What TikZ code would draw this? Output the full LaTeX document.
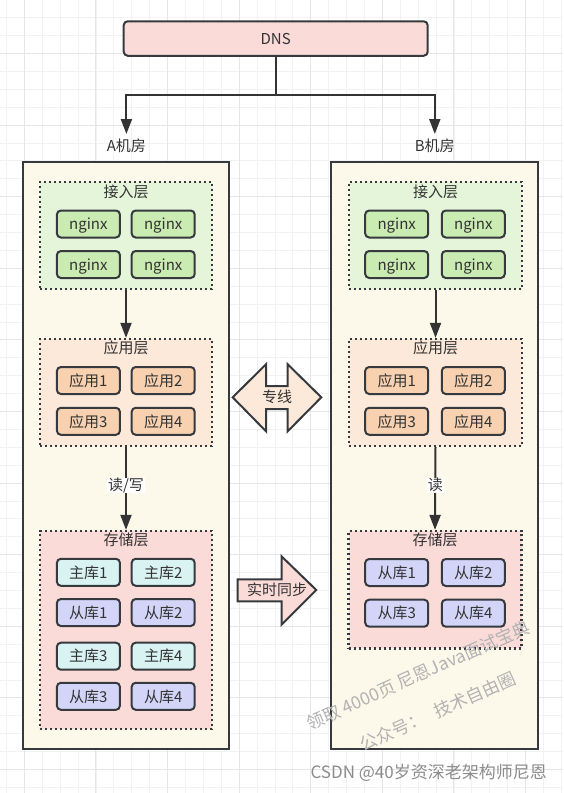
\documentclass[tikz,border=0pt]{standalone}
\usepackage{fontspec}
\setmainfont{Noto Sans CJK SC}
\usetikzlibrary{arrows.meta}
\definecolor{bd}{HTML}{36393D}
\definecolor{ac}{HTML}{333333}
\definecolor{tc}{HTML}{333333}
\definecolor{roomc}{HTML}{FCF8EA}
\definecolor{pinkc}{HTML}{FADBD8}
\definecolor{greeng}{HTML}{E4F5DA}
\definecolor{greenc}{HTML}{CAEBB1}
\definecolor{appg}{HTML}{FCE9DA}
\definecolor{appc}{HTML}{F8D2B0}
\definecolor{mainc}{HTML}{D8F3F1}
\definecolor{slavec}{HTML}{D2D5F7}
\definecolor{gminor}{HTML}{F2F2F2}
\definecolor{gmajor}{HTML}{E6E6E6}
\begin{document}
\begin{tikzpicture}[x=1pt,y=-1pt,
  txt/.style={font=\fontsize{15}{18}\selectfont, text=tc, text height=13.2pt, text depth=1.8pt, inner sep=0pt},
  bdr/.style={draw=bd, line width=2pt},
  room/.style={bdr, fill=roomc, minimum width=206pt, minimum height=587pt, inner sep=0pt},
  grp/.style={draw=bd, line width=2.3pt, dash pattern=on 2.2pt off 2.8pt, inner sep=0pt, minimum width=172pt},
  cell/.style={bdr, txt, rounded corners=4pt, minimum width=63pt, minimum height=27pt},
  arr/.style={draw=ac, line width=2pt, -{Triangle[length=15pt,width=11pt]}},
  wm/.style={font=\fontsize{17.5}{20}\selectfont, text=black!30, inner sep=0pt},
]
\useasboundingbox (0,0) rectangle (563,793);
\fill[white] (0,0) rectangle (563,793);
% grid
\foreach \k in {-1,...,30}{\pgfmathsetmacro\gx{24.3+17.9*\k}\draw[gminor, line width=0.8pt] (\gx,0) -- (\gx,793);}
\foreach \k in {-6,...,37}{\pgfmathsetmacro\gy{125+17.9*\k}\draw[gminor, line width=0.8pt] (0,\gy) -- (563,\gy);}
\foreach \k in {0,4,...,28}{\pgfmathsetmacro\gx{24.3+17.9*\k}\draw[gmajor, line width=0.9pt] (\gx,0) -- (\gx,793);}
\foreach \k in {-4,0,...,36}{\pgfmathsetmacro\gy{125+17.9*\k}\draw[gmajor, line width=0.9pt] (0,\gy) -- (563,\gy);}

% DNS
\node[bdr, txt, fill=pinkc, rounded corners=4pt, minimum width=304pt, minimum height=34.5pt] (dns) at (275.7,38.5) {DNS};
\coordinate (j) at (275.7,95);
\coordinate (tA) at (126.4,134);
\coordinate (tB) at (434.8,134);
\draw[arr] (dns.south) -- (j) -| (tA);
\draw[arr] (j) -| (tB);
\node[txt] (labA) at (126.4,146) {A机房};
\node[txt] (labB) at (434.8,146) {B机房};

% rooms
\node[room] (roomA) at (126.4,455.5) {};
\node[room, minimum width=207pt] (roomB) at (434.5,455.5) {};

% ---------- Room A ----------
\node[grp, fill=greeng, minimum height=107pt] (gA1) at (126,235.5) {};
\node[txt] (gA1l) at (126,191.5) {接入层};
\node[cell, fill=greenc] (nA1) at (88.4,224) {nginx};
\node[cell, fill=greenc] (nA2) at (163.2,224) {nginx};
\node[cell, fill=greenc] (nA3) at (88.4,264.5) {nginx};
\node[cell, fill=greenc] (nA4) at (163.2,264.5) {nginx};

\node[grp, fill=appg, minimum height=107pt] (gA2) at (126,392.5) {};
\node[txt] (gA2l) at (126,348) {应用层};
\node[cell, fill=appc] (aA1) at (88.4,380.5) {应用1};
\node[cell, fill=appc] (aA2) at (163.2,380.5) {应用2};
\node[cell, fill=appc] (aA3) at (88.4,421.3) {应用3};
\node[cell, fill=appc] (aA4) at (163.2,421.3) {应用4};

\node[grp, fill=pinkc, minimum height=198pt] (gA3) at (126,630) {};
\node[txt] (gA3l) at (126,539.5) {存储层};
\node[cell, fill=mainc] (mA1) at (88.4,572.3) {主库1};
\node[cell, fill=mainc] (mA2) at (163.2,572.3) {主库2};
\node[cell, fill=slavec] (sA1) at (88.4,612.5) {从库1};
\node[cell, fill=slavec] (sA2) at (163.2,612.5) {从库2};
\node[cell, fill=mainc] (mA3) at (88.4,656.2) {主库3};
\node[cell, fill=mainc] (mA4) at (163.2,656.2) {主库4};
\node[cell, fill=slavec] (sA3) at (88.4,696.3) {从库3};
\node[cell, fill=slavec] (sA4) at (163.2,696.3) {从库4};

\draw[arr] (gA1.south) -- (gA2.north);
\draw[arr] (gA2.south) -- node[txt, fill=white, pos=0.46, inner xsep=1pt] (rwA) {读/写} (gA3.north);

% ---------- Room B ----------
\node[grp, fill=greeng, minimum height=107pt, minimum width=173pt] (gB1) at (435.5,235.5) {};
\node[txt] (gB1l) at (435.5,191.5) {接入层};
\node[cell, fill=greenc] (nB1) at (396.7,224) {nginx};
\node[cell, fill=greenc] (nB2) at (473.3,224) {nginx};
\node[cell, fill=greenc] (nB3) at (396.7,264.5) {nginx};
\node[cell, fill=greenc] (nB4) at (473.3,264.5) {nginx};

\node[grp, fill=appg, minimum height=107pt, minimum width=173pt] (gB2) at (435.5,392.5) {};
\node[txt] (gB2l) at (435.5,348) {应用层};
\node[cell, fill=appc] (aB1) at (396.7,380.5) {应用1};
\node[cell, fill=appc] (aB2) at (473.3,380.5) {应用2};
\node[cell, fill=appc] (aB3) at (396.7,421.3) {应用3};
\node[cell, fill=appc] (aB4) at (473.3,421.3) {应用4};

\node[grp, fill=pinkc, minimum height=117.3pt, minimum width=173pt] (gB3) at (435,589.7) {};
\node[txt] (gB3l) at (435,540) {存储层};
\node[cell, fill=slavec] (sB1) at (396.7,572.5) {从库1};
\node[cell, fill=slavec] (sB2) at (473.3,572.5) {从库2};
\node[cell, fill=slavec] (sB3) at (396.7,613.2) {从库3};
\node[cell, fill=slavec] (sB4) at (473.3,613.2) {从库4};

\draw[arr] (gB1.south) -- (gB2.north);
\draw[arr] (gB2.south) -- node[txt, fill=white, pos=0.46, inner xsep=1pt] (rB) {读} (gB3.north);

% ---------- big arrows ----------
\draw[bdr, fill=appg, line join=miter] (232.7,397.3) -- (266,364.3) -- (266,386) -- (287.7,386) -- (287.7,364.3) -- (321.3,397.3) -- (287.7,431.3) -- (287.7,409) -- (266,409) -- (266,431.3) -- cycle;
\node[txt] (zx) at (277,397) {专线};
\draw[bdr, fill=pinkc, line join=miter] (237.7,579.3) -- (281.7,579.3) -- (281.7,556.5) -- (316.3,590) -- (281.7,624.5) -- (281.7,601.3) -- (237.7,601.3) -- cycle;
\node[txt] (sync) at (277,590) {实时同步};

% ---------- watermarks ----------
\node[wm, rotate=24] (wm1) at (418,675) {领取 4000页 尼恩Java面试宝典};
\node[wm, rotate=24] (wm2) at (438,711) {公众号：\hspace{0.6em}技术自由圈};
\node[anchor=east, font=\fontsize{17}{20}\selectfont, text=black!45, inner sep=0pt] (csdn) at (547,773) {CSDN @40岁资深老架构师尼恩};
\end{tikzpicture}
\end{document}
